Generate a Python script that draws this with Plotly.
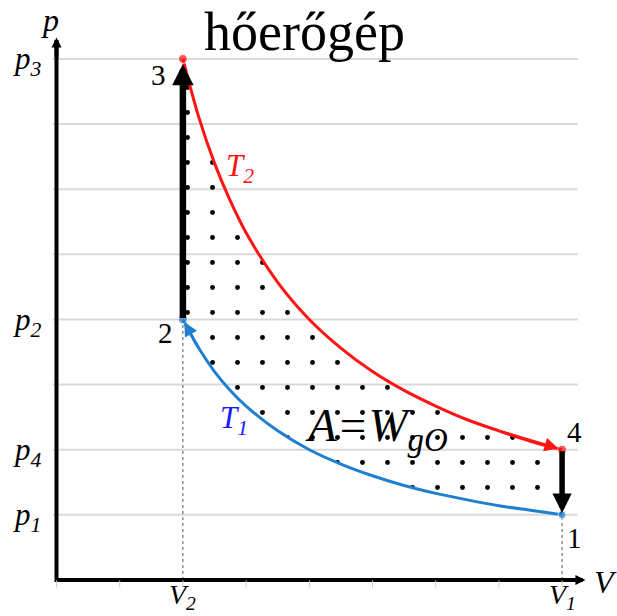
import plotly.graph_objects as go

# state points of the cycle (V, p) in the diagram's units
V_STATE = [8.0, 2.0, 2.0, 8.0]          # 1, 2, 3, 4
P_STATE = [1.0, 4.0, 8.0, 2.0]
STATE_LABELS = ["1", "2", "3", "4"]

# isotherms
V_CURVE = [2.0, 2.25, 2.5, 2.75, 3.0, 3.5, 4.0, 4.5, 5.0, 5.5, 6.0, 6.5, 7.0, 7.5, 8.0]
P_T2 = [8.0, 7.11, 6.4, 5.82, 5.33, 4.57, 4.0, 3.56, 3.2, 2.91, 2.67, 2.46, 2.29, 2.13, 2.0]
P_T1 = [4.0, 3.56, 3.2, 2.91, 2.67, 2.29, 2.0, 1.78, 1.6, 1.45, 1.33, 1.23, 1.14, 1.07, 1.0]

P_GRID = [1, 2, 3, 4, 5, 6, 7, 8]
V_TICKS = [0, 1, 2, 3, 4, 5, 6, 7, 8]
P_TICK_LABELS = {8: "p<sub>3</sub>", 4: "p<sub>2</sub>", 2: "p<sub>4</sub>", 1: "p<sub>1</sub>"}
V_TICK_LABELS = {2: "V<sub>2</sub>", 8: "V<sub>1</sub>"}

RED, BLUE, TBLUE, GRID = "#ff1414", "#1f7fd0", "#1a1aff", "#d9d9d9"
SERIF = "Liberation Serif, Times New Roman, serif"

fig = go.Figure()

# stippled work area between the isotherms
fig.add_trace(go.Scatter(
    x=V_CURVE + V_CURVE[::-1], y=P_T2 + P_T1[::-1], mode="lines",
    fill="toself", line=dict(width=0), fillcolor="rgba(0,0,0,0)",
    fillpattern=dict(shape=".", size=25, solidity=0.03, fgcolor="black",
                     fgopacity=1, bgcolor="rgba(0,0,0,0)"),
    hoverinfo="skip"))

# thin dotted drop lines to the V axis
for v, p in [(V_STATE[1], P_STATE[1]), (V_STATE[0], P_STATE[0])]:
    fig.add_trace(go.Scatter(x=[v, v], y=[0, p], mode="lines",
                             line=dict(color="#555555", width=1, dash="dot")))

# isotherms
fig.add_trace(go.Scatter(x=V_CURVE, y=P_T2, mode="lines",
                         line=dict(color=RED, width=3, shape="spline")))
fig.add_trace(go.Scatter(x=V_CURVE, y=P_T1, mode="lines",
                         line=dict(color=BLUE, width=3, shape="spline")))

# axes (L shape)
fig.add_trace(go.Scatter(x=[0, 0, 8.3], y=[8.28, 0, 0], mode="lines",
                         line=dict(color="black", width=4)))

# small ticks under the V axis
fig.add_trace(go.Scatter(x=V_TICKS, y=[-0.06] * len(V_TICKS), mode="markers",
                         marker=dict(symbol="line-ns", size=5,
                                     line=dict(color="#cccccc", width=1))))

# state point dots
fig.add_trace(go.Scatter(
    x=V_STATE, y=P_STATE, mode="markers",
    marker=dict(size=[8, 9, 9, 9], color=[BLUE, BLUE, RED, RED])))

anns = []


def arrow(x, y, ax, ay, color, width, head, size, standoff=0):
    anns.append(dict(x=x, y=y, ax=ax, ay=ay, xref="x", yref="y", axref="x", ayref="y",
                     showarrow=True, arrowhead=head, arrowsize=size, arrowwidth=width,
                     arrowcolor=color, standoff=standoff, text=""))


# axis heads
arrow(0, 8.33, 0, 8.0, "black", 4, 2, 0.5)
arrow(8.37, 0, 8.0, 0, "black", 4, 2, 0.5)
# isochoric steps 2->3 and 4->1
arrow(V_STATE[2], P_STATE[2], V_STATE[1], P_STATE[1], "black", 6.5, 2, 0.66, standoff=5)
arrow(V_STATE[0], P_STATE[0], V_STATE[3], P_STATE[3], "black", 5.5, 2, 0.7, standoff=2)
# direction heads on the isotherms
arrow(V_CURVE[-1], P_T2[-1], V_CURVE[-3], P_T2[-3], RED, 2.5, 2, 1.1, standoff=4)
arrow(V_CURVE[0], P_T1[0], V_CURVE[1], P_T1[1], BLUE, 2.5, 2, 1.1, standoff=3)


def label(x, y, text, size, color="black"):
    anns.append(dict(x=x, y=y, xref="x", yref="y", text=text, showarrow=False,
                     font=dict(family=SERIF, size=size, color=color),
                     xanchor="center", yanchor="middle"))


label(3.93, 8.42, "hőerőgép", 54)
label(-0.1, 8.6, "<i>p</i>", 32)
label(8.68, -0.03, "<i>V</i>", 32)
for p, t in P_TICK_LABELS.items():
    label(-0.46, p - 0.04, f"<i>{t}</i>", 31)
for v, t in V_TICK_LABELS.items():
    label(v, -0.26, f"<i>{t}</i>", 28)

label(1.61, 7.75, STATE_LABELS[2], 29)
label(1.73, 3.79, STATE_LABELS[1], 29)
label(8.19, 2.27, STATE_LABELS[3], 29)
label(8.19, 0.64, STATE_LABELS[0], 29)

label(2.9, 6.33, "<i>T<sub>2</sub></i>", 31, RED)
label(2.81, 2.46, "<i>T<sub>1</sub></i>", 31, TBLUE)
label(5.06, 2.33, "<i>A=W<sub>gO</sub></i>", 47)

shapes = [dict(type="line", xref="x", yref="y", x0=-0.06, x1=8.25, y0=p, y1=p,
               line=dict(color=GRID, width=2), layer="below") for p in P_GRID]

fig.update_layout(
    width=617, height=616, margin=dict(l=0, r=0, t=0, b=0),
    paper_bgcolor="white", plot_bgcolor="white", showlegend=False,
    xaxis=dict(range=[-0.894, 8.869], visible=False, fixedrange=True),
    yaxis=dict(range=[-0.553, 8.904], visible=False, fixedrange=True),
    annotations=anns, shapes=shapes)

fig.write_html("out.html", config={"displayModeBar": False},
               post_script="document.body.style.margin='0';"
                           "document.body.style.overflow='hidden';")
